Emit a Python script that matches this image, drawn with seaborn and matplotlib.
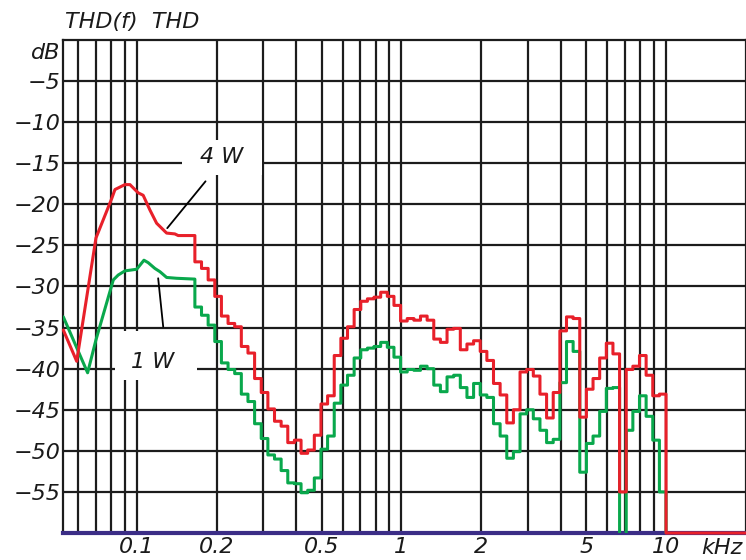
import numpy as np
import pandas as pd
import matplotlib
matplotlib.use("Agg")
import matplotlib.pyplot as plt
import seaborn as sns
from matplotlib.patches import Rectangle
from matplotlib.ticker import FixedLocator, NullFormatter

# ---------------------------------------------------------------------------
# Measured THD versus frequency (kHz, dB)
# ---------------------------------------------------------------------------
# Smooth low-frequency section
red_lf_freq = [0.0527, 0.0592, 0.0700, 0.0803, 0.0826, 0.0901, 0.0941, 0.1011,
               0.1056, 0.1120, 0.1187, 0.1295, 0.1391, 0.1432, 0.1656]
red_lf_db = [-35.3, -39.1, -24.1, -19.3, -18.2, -17.6, -17.6, -18.6,
             -18.9, -20.7, -22.3, -23.5, -23.6, -23.8, -23.8]

green_lf_freq = [0.0527, 0.0651, 0.0700, 0.0814, 0.0850, 0.0901, 0.0998,
                 0.1063, 0.1103, 0.1169, 0.1222, 0.1295, 0.1413, 0.1656]
green_lf_db = [-33.7, -40.5, -36.5, -29.2, -28.6, -28.1, -27.9,
               -26.8, -27.1, -27.8, -28.2, -28.9, -29.0, -29.1]

# 1/12-octave bands starting at band_start (kHz)
band_start = 0.1656
red_band_db = [
    -27.0, -27.8, -29.2, -31.2, -33.6, -34.5, -34.9, -37.3, -38.1, -41.2,
    -42.9, -44.9, -46.4, -47.0, -49.0, -48.7, -50.3, -49.9, -48.1, -44.3,
    -43.3, -38.4, -36.3, -34.9, -32.8, -31.8, -31.5, -31.3, -30.7, -31.2,
    -32.3, -34.2, -33.9, -34.1, -33.6, -34.1, -36.4, -36.8, -35.2, -35.1,
    -37.7, -37.0, -36.6, -37.9, -39.0, -41.8, -43.2, -46.6, -45.0, -40.4,
    -40.1, -40.9, -43.1, -46.0, -42.9, -35.4, -33.7, -33.9, -45.9, -42.5,
    -41.2, -38.7, -36.9, -38.2, -55.0, -40.1, -39.7, -38.4, -40.8, -43.3,
    -43.1,
]
green_band_db = [
    -32.5, -33.5, -34.7, -36.7, -39.3, -40.1, -40.6, -43.1, -44.0, -46.7,
    -48.5, -50.5, -51.0, -52.4, -53.9, -54.0, -55.1, -54.8, -53.3, -49.8,
    -48.2, -44.2, -42.0, -40.8, -38.7, -37.7, -37.5, -37.3, -36.8, -37.4,
    -38.6, -40.4, -40.1, -40.2, -39.7, -40.0, -42.0, -42.8, -41.0, -40.8,
    -42.3, -43.5, -41.8, -43.2, -43.5, -46.7, -48.2, -50.9, -50.1, -45.5,
    -45.0, -46.1, -47.5, -49.0, -48.6, -41.7, -36.7, -37.9, -52.6, -49.1,
    -48.2, -45.2, -42.4, -42.3, -62.0, -47.5, -45.2, -43.3, -45.8, -48.7,
    -55.0,
]
# Level above the last band (below the analyser floor)
red_tail_db = -60.0
green_tail_db = -62.0
f_max = 20.0

series_names = ["4 W", "1 W"]

x_major = [0.1, 0.2, 0.5, 1, 2, 5, 10]
x_major_labels = ["0.1", "0.2", "0.5", "1", "2", "5", "10"]
x_minor = [0.06, 0.07, 0.08, 0.09, 0.3, 0.4, 0.6, 0.7, 0.8, 0.9,
           3, 4, 6, 7, 8, 9]
y_ticks = [-55, -50, -45, -40, -35, -30, -25, -20, -15, -10, -5]
y_tick_labels = ["\u2212" + str(-v) for v in y_ticks]


def trace(lf_freq, lf_db, band_db, tail_db):
    """Join the smooth section and the stepped band levels into one path."""
    edges = band_start * 2.0 ** (np.arange(len(band_db) + 1) / 12.0)
    xs, ys = list(lf_freq), list(lf_db)
    for i, v in enumerate(band_db):
        xs += [edges[i], edges[i + 1]]
        ys += [v, v]
    xs += [edges[-1], f_max]
    ys += [tail_db, tail_db]
    return pd.DataFrame({"freq": xs, "thd": ys})


red_df = trace(red_lf_freq, red_lf_db, red_band_db, red_tail_db)
green_df = trace(green_lf_freq, green_lf_db, green_band_db, green_tail_db)

# ---------------------------------------------------------------------------
sns.set_style("white")
plt.rcParams["font.family"] = ["DejaVu Sans"]

RED = "#e8202a"
GREEN = "#09a84c"
GRID = "#1c1c1c"
NAVY = "#3b2d86"
INK = "#1a1a1a"
FS = 16

fig = plt.figure(figsize=(7.46, 5.6), dpi=100)
ax = fig.add_axes([0.0849, 0.0482, 0.9146, 0.8804])

sns.lineplot(data=green_df, x="freq", y="thd", sort=False, estimator=None,
             color=GREEN, lw=2.2, ax=ax, zorder=3)
sns.lineplot(data=red_df, x="freq", y="thd", sort=False, estimator=None,
             color=RED, lw=2.2, ax=ax, zorder=4, clip_on=False)

ax.set_xscale("log")
ax.set_xlim(0.0527, f_max)
ax.set_ylim(-60, 0)

ax.xaxis.set_major_locator(FixedLocator(x_major))
ax.xaxis.set_minor_locator(FixedLocator(x_minor))
ax.xaxis.set_minor_formatter(NullFormatter())
ax.set_xticks(x_major)
ax.set_xticklabels(x_major_labels, fontsize=FS, fontstyle="italic", color=INK)
ax.set_yticks(y_ticks)
ax.set_yticklabels(y_tick_labels, fontsize=FS, fontstyle="italic", color=INK)
ax.tick_params(axis="x", which="both", length=0, pad=3)
ax.tick_params(axis="y", which="both", length=0, pad=2)
ax.set_xlabel("")
ax.set_ylabel("")

ax.set_axisbelow(True)
ax.grid(True, which="both", axis="x", color=GRID, lw=1.6)
ax.grid(True, which="major", axis="y", color=GRID, lw=1.6)

for side in ("left", "top", "right"):
    ax.spines[side].set_color(GRID)
    ax.spines[side].set_linewidth(1.6)
ax.spines["bottom"].set_color(NAVY)
ax.spines["bottom"].set_linewidth(3.0)

# White label boxes that interrupt the grid
ax.add_patch(Rectangle((0.1479, -16.4), 0.2967 - 0.1479, 4.25,
                       facecolor="white", edgecolor="none", zorder=1.5))
ax.add_patch(Rectangle((0.0826, -41.4), 0.1685 - 0.0826, 6.0,
                       facecolor="white", edgecolor="none", zorder=1.5))

ax.text(0.2095, -14.3, series_names[0], fontsize=FS, fontstyle="italic",
        color=INK, ha="center", va="center", zorder=5)
ax.text(0.1149, -39.2, series_names[1], fontsize=FS, fontstyle="italic",
        color=INK, ha="center", va="center", zorder=5)
ax.annotate("", xy=(0.1302, -22.9), xytext=(0.1817, -17.2),
            arrowprops=dict(arrowstyle="-", color="black", lw=1.3,
                            shrinkA=0, shrinkB=0), zorder=5)
ax.annotate("", xy=(0.1257, -34.9), xytext=(0.1203, -29.0),
            arrowprops=dict(arrowstyle="-", color="black", lw=1.3,
                            shrinkA=0, shrinkB=0), zorder=5)

# Axis captions
ax.text(-0.005, 0.974, "dB", transform=ax.transAxes, fontsize=FS,
        fontstyle="italic", color=INK, ha="right", va="center")
ax.text(0.9653, -0.030, "kHz", transform=ax.transAxes, fontsize=FS,
        fontstyle="italic", color=INK, ha="center", va="center")
fig.text(0.0871, 0.9607, "THD(f)  THD", fontsize=FS, fontstyle="italic",
         color=INK, ha="left", va="center")

fig.savefig("out.png", dpi=100)
